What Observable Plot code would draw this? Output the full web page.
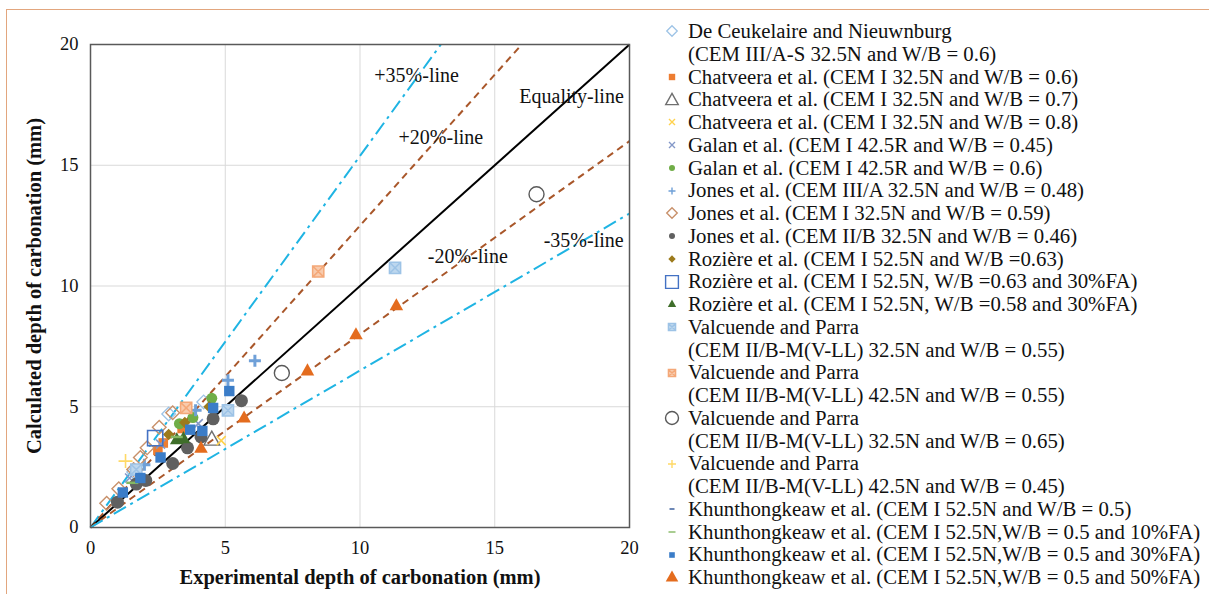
<!DOCTYPE html>
<html>
<head>
<meta charset="utf-8">
<script src="https://cdn.jsdelivr.net/npm/d3@7"></script>
<script src="https://cdn.jsdelivr.net/npm/@observablehq/plot@0.6"></script>
<style>
  html, body { margin: 0; padding: 0; background: #fff; }
  #wrap { position: relative; width: 1209px; height: 594px; overflow: hidden; background: #fff; font-family: "Liberation Serif", "DejaVu Serif", serif; }
  #frame { position: absolute; left: 6px; top: 9px; width: 1300px; height: 700px; border-top: 1.5px solid #e2a67e; border-left: 1.5px solid #e2a67e; }
  #chart { position: absolute; left: 0; top: 0; }
  #chart svg [aria-label="x-axis label"] text, #chart svg [aria-label="y-axis label"] text { font-weight: bold; font-size: 20.5px; }
  #legend { position: absolute; left: 661px; top: 20px; font-size: 20.8px; line-height: 22.75px; color: #111; }
  .row { display: flex; align-items: center; height: 22.75px; white-space: nowrap; }
  .row svg { width: 22px; height: 16px; flex: none; margin-right: 5px; }
  .row.cont { padding-left: 27px; }
</style>
</head>
<body>
<div id="wrap">
  <div id="frame"></div>
  <div id="chart"></div>
  <div id="legend"></div>
</div>
<script>
// ---------- data: [experimental, calculated] in mm ----------
const deCeukelaire   = [[1.6,2.3],[2.9,4.7],[4.2,5.2]];
const chatveera06    = [[2.5,3.2],[2.7,3.5],[3.4,4.1]];
const chatveera07    = [[4.5,3.65]];
const chatveera08    = [[4.85,3.6]];
const galan045       = [[1.45,2.05],[2.6,3.45],[4.0,4.3]];
const galan06        = [[4.5,5.35],[3.8,4.55],[3.3,4.3]];
const jonesIIIA      = [[6.1,6.9],[5.1,6.1],[3.9,4.85],[2.0,2.6]];
const jonesI059      = [[0.6,1.0],[1.05,1.6],[1.6,2.4],[1.85,2.9],[2.1,3.3],[2.55,4.15],[3.05,4.75]];
const jonesIIB       = [[1.0,1.05],[1.7,1.8],[2.05,1.95],[3.05,2.65],[3.6,3.3],[4.1,3.75],[4.55,4.5],[5.6,5.25]];
const roziereI       = [[2.9,3.85],[3.5,4.35],[4.4,5.0]];
const roziereFA063   = [[2.4,3.7]];
const roziereFA058   = [[3.2,3.65],[3.45,3.7]];
const valcuende3255  = [[1.7,2.4],[5.1,4.85],[11.3,10.75]];
const valcuende4255  = [[3.55,4.95],[8.45,10.6]];
const valcuende3265  = [[7.1,6.4],[16.55,13.8]];
const valcuende4245  = [[1.3,2.75]];
const khun05         = [[1.85,2.15]];
const khunFA10       = [[1.55,1.85],[3.2,3.75]];
const khunFA30       = [[1.2,1.45],[1.85,2.05],[2.6,2.9],[3.7,4.05],[4.15,4.0],[4.55,4.95],[5.15,5.65]];
const khunFA50       = [[4.1,3.3],[5.7,4.55],[8.05,6.5],[9.85,8.0],[11.35,9.2]];

const axisTicks = [0, 5, 10, 15, 20];
const gridTicks = [5, 10, 15];

// reference lines: calculated = factor * experimental
const lineNames   = ["+35%-line", "+20%-line", "Equality-line", "-20%-line", "-35%-line"];
const lineFactors = [1/0.65, 1/0.8, 1, 0.8, 0.65];

// ---------- symbols ----------
const rOf = size => Math.sqrt(size / Math.PI);
const symDash = { draw(ctx, size) { const r = rOf(size); ctx.moveTo(-r, 0); ctx.lineTo(r, 0); } };
const symBoxTimes = { draw(ctx, size) { const r = rOf(size) * 0.8;
  ctx.moveTo(-r,-r); ctx.lineTo(r,-r); ctx.lineTo(r,r); ctx.lineTo(-r,r); ctx.closePath();
  ctx.moveTo(-r,-r); ctx.lineTo(r,r); ctx.moveTo(r,-r); ctx.lineTo(-r,r); } };
const symSquare = { draw(ctx, size) { const r = rOf(size) * 0.8; ctx.rect(-r, -r, 2*r, 2*r); } };
const symDiamond = { draw(ctx, size) { const r = rOf(size) * 1.05; ctx.moveTo(0,-r); ctx.lineTo(r,0); ctx.lineTo(0,r); ctx.lineTo(-r,0); ctx.closePath(); } };
const symTri = { draw(ctx, size) { const r = rOf(size) * 1.1; ctx.moveTo(0,-r); ctx.lineTo(r*0.95,r*0.7); ctx.lineTo(-r*0.95,r*0.7); ctx.closePath(); } };
const symTimes = { draw(ctx, size) { const r = rOf(size) * 0.75; ctx.moveTo(-r,-r); ctx.lineTo(r,r); ctx.moveTo(r,-r); ctx.lineTo(-r,r); } };
const symPlus = { draw(ctx, size) { const r = rOf(size); ctx.moveTo(-r,0); ctx.lineTo(r,0); ctx.moveTo(0,-r); ctx.lineTo(0,r); } };
const symCircle = { draw(ctx, size) { const r = rOf(size); ctx.moveTo(r,0); ctx.arc(0,0,r,0,2*Math.PI); } };

// series definitions (label lines, data, style)
const series = [
  {lines:["De Ceukelaire and Nieuwnburg","(CEM III/A-S 32.5N and W/B = 0.6)"], data: deCeukelaire, sym: symDiamond, fill:"none", stroke:"#9dc3e6", sw:1.3, r:6.5, lr:5},
  {lines:["Chatveera et al. (CEM I 32.5N and W/B = 0.6)"], data: chatveera06, sym: symSquare, fill:"#ed7d31", stroke:"none", sw:0, r:6, lr:4},
  {lines:["Chatveera et al. (CEM I 32.5N and W/B = 0.7)"], data: chatveera07, sym: symTri, fill:"none", stroke:"#6f6f6f", sw:1.4, r:7.5, lr:6},
  {lines:["Chatveera et al. (CEM I 32.5N and W/B = 0.8)"], data: chatveera08, sym: symTimes, fill:"none", stroke:"#ffd24d", sw:1.6, r:6, lr:4},
  {lines:["Galan et al. (CEM I 42.5R and W/B = 0.45)"], data: galan045, sym: symTimes, fill:"none", stroke:"#8498c8", sw:1.6, r:6, lr:4},
  {lines:["Galan et al. (CEM I 42.5R and W/B = 0.6)"], data: galan06, sym: symCircle, fill:"#70ad47", stroke:"none", sw:0, r:5.5, lr:3},
  {lines:["Jones et al. (CEM III/A 32.5N and W/B = 0.48)"], data: jonesIIIA, sym: symPlus, fill:"none", stroke:"#6fa0d8", sw:3, r:6, lr:3.5},
  {lines:["Jones et al. (CEM I 32.5N and W/B = 0.59)"], data: jonesI059, sym: symDiamond, fill:"none", stroke:"#c8906a", sw:1.4, r:6.5, lr:5},
  {lines:["Jones et al. (CEM II/B 32.5N and W/B = 0.46)"], data: jonesIIB, sym: symCircle, fill:"#606060", stroke:"none", sw:0, r:6.5, lr:3},
  {lines:["Rozière et al. (CEM I 52.5N and W/B =0.63)"], data: roziereI, sym: symDiamond, fill:"#9c7a1c", stroke:"none", sw:0, r:5.5, lr:3.5},
  {lines:["Rozière et al. (CEM I 52.5N, W/B =0.63 and 30%FA)"], data: roziereFA063, sym: symSquare, fill:"none", stroke:"#4472c4", sw:1.6, r:9.5, lr:8},
  {lines:["Rozière et al. (CEM I 52.5N, W/B =0.58 and 30%FA)"], data: roziereFA058, sym: symTri, fill:"#3f6e2a", stroke:"none", sw:0, r:6.5, lr:4},
  {lines:["Valcuende and Parra","(CEM II/B-M(V-LL) 32.5N and W/B = 0.55)"], data: valcuende3255, sym: symBoxTimes, fill:"#bdd7ee", stroke:"#9dc3e6", sw:1.5, r:7, lr:4.5},
  {lines:["Valcuende and Parra","(CEM II/B-M(V-LL) 42.5N and W/B = 0.55)"], data: valcuende4255, sym: symBoxTimes, fill:"#f8cbad", stroke:"#f4a878", sw:1.5, r:7, lr:4.5},
  {lines:["Valcuende and Parra","(CEM II/B-M(V-LL) 32.5N and W/B = 0.65)"], data: valcuende3265, sym: symCircle, fill:"none", stroke:"#595959", sw:1.4, r:7.5, lr:6.5},
  {lines:["Valcuende and Parra","(CEM II/B-M(V-LL) 42.5N and W/B = 0.45)"], data: valcuende4245, sym: symPlus, fill:"none", stroke:"#ffd966", sw:1.6, r:7, lr:4},
  {lines:["Khunthongkeaw et al. (CEM I 52.5N and W/B = 0.5)"], data: khun05, sym: symDash, fill:"none", stroke:"#2f5597", sw:2.5, r:5, lr:2.5},
  {lines:["Khunthongkeaw et al. (CEM I 52.5N,W/B = 0.5 and 10%FA)"], data: khunFA10, sym: symDash, fill:"none", stroke:"#84b862", sw:2.5, r:6, lr:3.5},
  {lines:["Khunthongkeaw et al. (CEM I 52.5N,W/B = 0.5 and 30%FA)"], data: khunFA30, sym: symSquare, fill:"#3b7dc8", stroke:"none", sw:0, r:6.5, lr:3.5},
  {lines:["Khunthongkeaw et al. (CEM I 52.5N,W/B = 0.5 and 50%FA)"], data: khunFA50, sym: symTri, fill:"#e46c1e", stroke:"none", sw:0, r:6.5, lr:6}
];

// reference-line table (built from names/factors, clipped to the 0–20 domain)
const refRows = [];
lineNames.forEach((name, i) => {
  const f = lineFactors[i];
  const xEnd = Math.min(20, 20 / f);
  refRows.push({name, x: 0, y: 0}, {name, x: xEnd, y: xEnd * f});
});
const lineStyle = {
  "+35%-line": {stroke: "#1fb4e3", dash: "14,5,3,5", w: 2},
  "+20%-line": {stroke: "#a9572a", dash: "7,5", w: 2},
  "Equality-line": {stroke: "#000", dash: null, w: 2},
  "-20%-line": {stroke: "#a9572a", dash: "7,5", w: 2},
  "-35%-line": {stroke: "#1fb4e3", dash: "14,5,3,5", w: 2}
};
// label anchor positions (data units)
const labelX = [12.1, 13.0, 17.85, 14.0, 18.3];
const labelY = [18.7, 16.15, 17.85, 11.2, 11.9];
const labelRows = lineNames.map((t, i) => ({t, x: labelX[i], y: labelY[i]}));

const marks = [
  Plot.ruleX(gridTicks, {stroke: "#d9d9d9", strokeWidth: 1}),
  Plot.ruleY(gridTicks, {stroke: "#d9d9d9", strokeWidth: 1}),
  ...lineNames.map(n => Plot.line(refRows.filter(d => d.name === n), {
    x: "x", y: "y", stroke: lineStyle[n].stroke, strokeWidth: lineStyle[n].w,
    strokeDasharray: lineStyle[n].dash || undefined, strokeLinecap: "butt"
  })),
  ...series.map(s => Plot.dot(s.data, {
    x: d => d[0], y: d => d[1], symbol: s.sym, r: s.r,
    fill: s.fill, stroke: s.stroke, strokeWidth: s.sw, fillOpacity: 1
  })),
  Plot.text(labelRows, {x: "x", y: "y", text: "t", fontSize: 20, fill: "#111", fontFamily: "Liberation Serif"}),
  Plot.frame({stroke: "#595959", strokeWidth: 1.5}),
  Plot.axisX({ticks: axisTicks, tickSize: 0, tickPadding: 13, fontSize: 18.5, label: "Experimental depth of carbonation (mm)", labelAnchor: "center", labelOffset: 56, labelArrow: false}),
  Plot.axisY({ticks: axisTicks, tickSize: 0, tickPadding: 12, fontSize: 18.5, label: "Calculated depth of carbonation (mm)", labelAnchor: "center", labelOffset: 64, labelArrow: false})
];

const chart = Plot.plot({
  width: 650, height: 594,
  marginLeft: 90, marginRight: 21, marginTop: 44, marginBottom: 67,
  x: {domain: [0, 20]},
  y: {domain: [0, 20]},
  style: {fontFamily: "Liberation Serif", fontSize: "18.5px", color: "#111", background: "transparent"},
  marks
});
document.getElementById("chart").appendChild(chart);

// ---------- legend ----------
const legend = d3.select("#legend");
series.forEach(s => {
  s.lines.forEach((txt, j) => {
    const row = legend.append("div").attr("class", j === 0 ? "row" : "row cont");
    if (j === 0) {
      const svg = row.append("svg").attr("viewBox", "-11 -8 22 16");
      svg.append("path")
        .attr("d", d3.symbol(s.sym, Math.PI * s.lr * s.lr)())
        .attr("fill", s.fill).attr("stroke", s.stroke)
        .attr("stroke-width", Math.min(s.sw, 1.4));
    }
    row.append("span").text(txt);
  });
});
</script>
</body>
</html>
